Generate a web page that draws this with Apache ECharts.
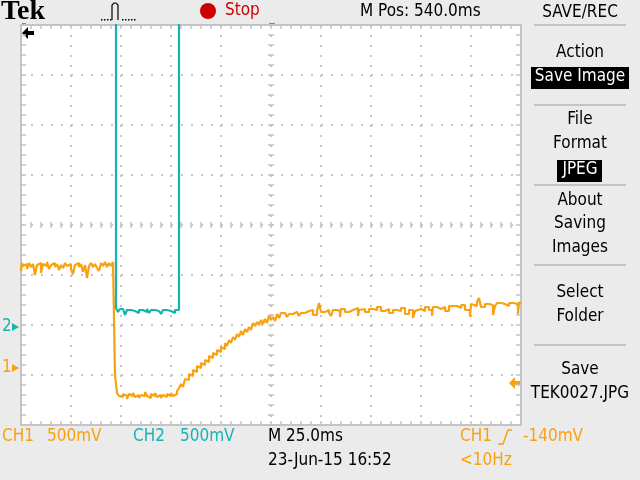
<!DOCTYPE html>
<html>
<head>
<meta charset="utf-8">
<script src="https://cdn.jsdelivr.net/npm/echarts@6/dist/echarts.min.js"></script>
<style>
html, body { margin: 0; padding: 0; background: #ebebeb; }
#chart { width: 640px; height: 480px; }
</style>
</head>
<body>
<div id="chart"></div>
<script>
// horizontal: 25 ms/div, 10 divisions -> 0..250 ms across the screen
var timeTicks = [0, 25, 50, 75, 100, 125, 150, 175, 200, 225, 250];
var voltsPerDiv = 0.5;
var ch1Pos = -2.86;   // ground marker "1", in divisions from centre
var ch2Pos = -2.04;   // ground marker "2"

// CH1 (orange), [ms, V]
var ch1 = [
	[0,0.97],[0.5,1.05],[1,1.02],[2,1.04],[3,0.99],[4,1.05],[5,1.01],[6,1.04],[7,0.93],[8,1.03],[9,1.05],
	[10,0.95],[11,1.04],[12,1.02],[13,1.06],[14,0.99],[15,1.03],[16,1.05],[17,1.01],[18,1.04],[19,0.98],
	[20,1.03],[21,1.00],[22,1.05],[23,1.02],[24,1.04],[25,0.99],[26,0.94],[27,1.03],[28,1.05],[29,1.01],
	[30,1.04],[31,0.96],[32,1.03],[33,0.90],[34,1.02],[35,1.05],[36,1.01],[37,1.04],[38,1.00],[39,0.97],
	[40,1.05],[41,1.02],[42,1.06],[43,1.01],[44,1.05],[45,1.02],[46,1.06],[47,-0.07],[48,-0.25],
	[49,-0.28],[50,-0.29],[51,-0.26],[52,-0.28],[53,-0.31],[54,-0.26],[55,-0.28],[56,-0.25],[57,-0.29],
	[58,-0.27],[59,-0.30],[60,-0.27],[61,-0.28],[62,-0.24],[63,-0.28],[64,-0.30],[65,-0.26],[66,-0.28],
	[67,-0.25],[68,-0.29],[69,-0.27],[70,-0.30],[71,-0.27],[72,-0.29],[73,-0.26],[74,-0.28],[75,-0.25],
	[76,-0.28],[77,-0.26],[78,-0.23],[79,-0.20],[80,-0.16],[81,-0.19],[82,-0.11],[83,-0.12],[84,-0.06],
	[85,-0.08],[86,-0.02],[87,-0.04],[88,0.02],[89,0.00],[90,0.05],[91,0.03],[92,0.08],[93,0.06],[94,0.12],
	[95,0.10],[96,0.15],[97,0.13],[98,0.18],[99,0.16],[100,0.21],[101,0.19],[102,0.25],[103,0.22],
	[104,0.28],[105,0.25],[106,0.31],[107,0.28],[108,0.34],[109,0.31],[110,0.37],[111,0.33],[112,0.39],
	[113,0.36],[114,0.41],[115,0.38],[116,0.45],[117,0.42],[118,0.46],[119,0.43],[120,0.48],[121,0.44],
	[122,0.49],[123,0.45],[124,0.52],[125,0.48],[126,0.51],[127,0.47],[128,0.54],[129,0.50],[130,0.55],
	[132,0.56],[133,0.51],[134,0.54],[136,0.56],[138,0.57],[139,0.52],[140,0.55],[142,0.57],[144,0.58],
	[146,0.53],[148,0.57],[149,0.65],[150,0.56],[152,0.58],[154,0.55],[155,0.52],[156,0.58],[158,0.57],
	[159.5,0.51],[160,0.59],[162,0.56],[164,0.58],[166,0.60],[168.5,0.52],[169,0.58],[170,0.59],
	[172,0.56],[174,0.59],[176,0.58],[178,0.61],[180,0.57],[182,0.59],[184,0.55],[186,0.58],[188,0.57],
	[190,0.60],[192,0.54],[194,0.58],[196,0.50],[197,0.57],[198,0.59],[200,0.57],[202,0.61],[204,0.58],
	[205.5,0.52],[206,0.61],[208,0.59],[210,0.61],[212,0.57],[214,0.62],[216,0.62],[218,0.60],[220,0.63],
	[222,0.58],[224.5,0.51],[225,0.64],[226,0.62],[228,0.66],[229,0.70],[230,0.61],[232,0.64],[234,0.63],
	[236,0.53],[237,0.62],[238,0.65],[240,0.64],[242,0.62],[244,0.65],[246,0.64],[248.5,0.54],[249,0.66],[250,0.64]
];

// CH2 (cyan), [ms, V]  -- high level is off the top of the screen
var ch2 = [
	[47.5,3.6],[47.5,0.19],[48.5,0.15],[49.5,0.18],[51,0.16],[52,0.12],[53,0.17],[55,0.16],[57,0.18],
	[58,0.14],[59,0.17],[61,0.15],[63,0.18],[64,0.14],[65,0.17],[67,0.16],[69,0.18],[70,0.13],[71,0.17],
	[73,0.16],[75,0.18],[76,0.14],[77,0.17],[79,0.17],[79,3.6]
];

var menuText = ['SAVE/REC', 'Action', 'Save Image', 'File', 'Format', 'JPEG', 'About', 'Saving', 'Images', 'Select', 'Folder', 'Save', 'TEK0027.JPG'];

var FONT = "'DejaVu Sans Condensed','Liberation Sans Narrow','DejaVu Sans',sans-serif";
var ORANGE = '#f9a10f', CYAN = '#17b3b3', GRID = '#c4c4c4';

function txt(x, y, s, color, align, size) {
	return {
		type: 'text', x: x, y: y, silent: true,
		style: { text: s, fill: color || '#000', font: (size || 17) + 'px ' + FONT, textAlign: align || 'left', textVerticalAlign: 'middle' }
	};
}
function sep(y) {
	return { type: 'line', silent: true, shape: { x1: 534, y1: y, x2: 626, y2: y }, style: { stroke: '#c4c4c4', lineWidth: 2 } };
}
function box(x, y, w, h) {
	return { type: 'rect', silent: true, shape: { x: x, y: y, width: w, height: h }, style: { fill: '#000' } };
}
function dot(x, y) {
	return { type: 'rect', silent: true, shape: { x: x, y: y, width: 1.5, height: 1.5 }, style: { fill: '#000' } };
}

function xAx(pos, offset, inside, len, split) {
	return {
		type: 'value', position: pos, offset: offset, min: timeTicks[0], max: timeTicks[timeTicks.length - 1],
		interval: timeTicks[1] - timeTicks[0],
		axisLabel: { show: false },
		axisLine: { show: offset === 0, onZero: false, lineStyle: { color: GRID, width: 2 } },
		axisTick: { show: true, inside: inside, length: len, lineStyle: { color: GRID, width: 1.5 } },
		minorTick: { show: true, splitNumber: 5, length: len, lineStyle: { color: GRID, width: 1.5 } },
		splitLine: { show: !!split, lineStyle: { color: GRID, width: 2, type: [2, 8] } }
	};
}
function yAx(pos, offset, inside, len, split) {
	return {
		type: 'value', position: pos, offset: offset, min: -4, max: 4, interval: 1,
		axisLabel: { show: false },
		axisLine: { show: offset === 0, onZero: false, lineStyle: { color: GRID, width: 2 } },
		axisTick: { show: true, inside: inside, length: len, lineStyle: { color: GRID, width: 1.5 } },
		minorTick: { show: true, splitNumber: 5, length: len, lineStyle: { color: GRID, width: 1.5 } },
		splitLine: { show: !!split, lineStyle: { color: GRID, width: 2, type: [2, 8] } }
	};
}

var myChart = echarts.init(document.getElementById('chart'), null, { renderer: 'canvas' });

var graphics = [
	{ type: 'text', x: 1, y: 12, silent: true, style: { text: 'Tek', fill: '#000', font: 'bold 28px "Liberation Serif",serif', textVerticalAlign: 'middle' } },
	// acquisition pulse icon
	dot(101, 19), dot(104, 19), dot(107, 19), dot(110, 19),
	{ type: 'polyline', silent: true, shape: { points: [[112, 20], [112, 5], [114, 3], [116, 3], [118, 5], [118, 20]] }, style: { stroke: '#000', lineWidth: 1.2, fill: null } },
	dot(122, 19), dot(125, 19), dot(128, 19), dot(131, 19), dot(134, 19),
	{ type: 'circle', silent: true, shape: { cx: 208, cy: 11, r: 8 }, style: { fill: '#cc0000' } },
	txt(225, 11, 'Stop', '#cc0000'),
	txt(360, 12, 'M Pos: 540.0ms'),
	// channel ground markers and position arrows
	txt(2, 327, '2', CYAN),
	{ type: 'polygon', silent: true, shape: { points: [[12, 323], [19, 327], [12, 331]] }, style: { fill: CYAN } },
	txt(2, 368, '1', ORANGE),
	{ type: 'polygon', silent: true, shape: { points: [[12, 364], [19, 368], [12, 372]] }, style: { fill: ORANGE } },
	{ type: 'polygon', silent: true, shape: { points: [[22, 33], [28, 27], [28, 31], [34, 31], [34, 35], [28, 35], [28, 39]] }, style: { fill: '#000' } },
	{ type: 'polygon', silent: true, shape: { points: [[509, 383], [515, 377], [515, 381], [522, 381], [522, 385], [515, 385], [515, 389]] }, style: { fill: ORANGE } },
	{ type: 'rect', silent: true, shape: { x: 269, y: 23, width: 6, height: 3 }, style: { fill: CYAN } },
	{ type: 'rect', silent: true, shape: { x: 22, y: 23, width: 4, height: 3 }, style: { fill: CYAN } },
	// bottom readouts
	txt(2, 437, 'CH1', ORANGE), txt(47, 437, '500mV', ORANGE),
	txt(133, 437, 'CH2', CYAN), txt(180, 437, '500mV', CYAN),
	txt(268, 437, 'M 25.0ms'), txt(268, 461, '23-Jun-15 16:52'),
	txt(460, 437, 'CH1', ORANGE),
	{ type: 'polyline', silent: true, shape: { points: [[498, 444], [503, 444], [508, 430], [512, 430]] }, style: { stroke: ORANGE, lineWidth: 1.5, fill: null } },
	txt(523, 437, '-140mV', ORANGE),
	txt(460, 461, '<10Hz', ORANGE),
	// menu
	txt(580, 13, menuText[0], '#000', 'center'), sep(25),
	txt(580, 53, menuText[1], '#000', 'center'),
	box(531, 67, 98, 22), txt(580, 77, menuText[2], '#fff', 'center'), sep(105),
	txt(580, 120, menuText[3], '#000', 'center'), txt(580, 144, menuText[4], '#000', 'center'),
	box(557, 160, 45, 22), txt(580, 170, menuText[5], '#fff', 'center'), sep(185),
	txt(580, 201, menuText[6], '#000', 'center'), txt(580, 224, menuText[7], '#000', 'center'),
	txt(580, 248, menuText[8], '#000', 'center'), sep(265),
	txt(580, 293, menuText[9], '#000', 'center'), txt(580, 317, menuText[10], '#000', 'center'), sep(345),
	txt(580, 370, menuText[11], '#000', 'center'), txt(580, 394, menuText[12], '#000', 'center')
];

var option = {
	backgroundColor: '#ebebeb',
	animation: false,
	grid: { left: 21, top: 25, width: 500, height: 400, show: true, backgroundColor: '#fff', borderWidth: 0 },
	xAxis: [
		xAx('bottom', 0, true, 4, true),
		xAx('top', 0, true, 4, false),
		xAx('bottom', -200, false, 3, false),
		xAx('bottom', -200, true, 3, false)
	],
	yAxis: [
		yAx('left', 0, true, 5, true),
		{ type: 'value', show: false, min: (-4 - ch1Pos) * voltsPerDiv, max: (4 - ch1Pos) * voltsPerDiv },
		{ type: 'value', show: false, min: (-4 - ch2Pos) * voltsPerDiv, max: (4 - ch2Pos) * voltsPerDiv },
		yAx('right', 0, true, 5, false),
		yAx('left', -250, false, 3, false),
		yAx('left', -250, true, 3, false)
	],
	series: [
		{
			name: 'CH1', type: 'line', xAxisIndex: 0, yAxisIndex: 1, data: ch1, step: 'end',
			showSymbol: false, silent: true, clip: true,
			lineStyle: { color: ORANGE, width: 2.2 }
		},
		{
			name: 'CH2', type: 'line', xAxisIndex: 0, yAxisIndex: 2, data: ch2, step: 'end',
			showSymbol: false, silent: true, clip: true,
			lineStyle: { color: CYAN, width: 2.2 }
		}
	],
	graphic: graphics
};
myChart.setOption(option);
</script>
</body>
</html>
